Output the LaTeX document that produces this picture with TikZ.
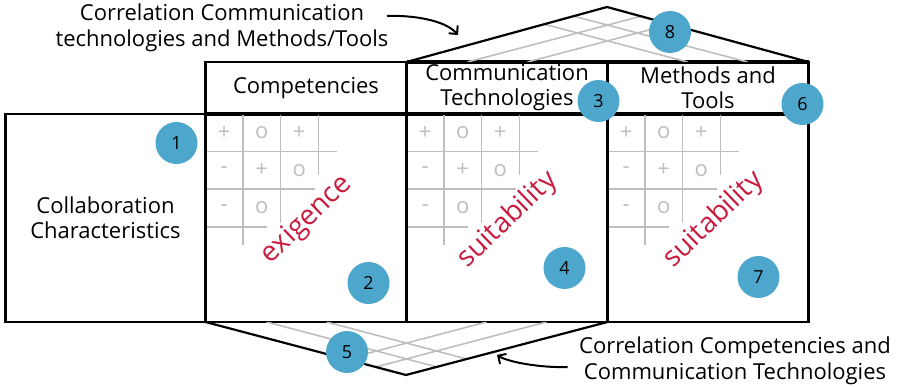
\documentclass[tikz,border=0pt]{standalone}
\usepackage{fontspec}
\setmainfont{Open Sans}
\usetikzlibrary{arrows.meta,positioning,calc}
\definecolor{badgeblue}{RGB}{77,167,204}
\definecolor{ratingred}{RGB}{200,28,62}
\definecolor{gridgray}{RGB}{190,190,190}
\begin{document}
\begin{tikzpicture}[
        x=1pt, y=-1pt,
        header/.style={
            rectangle,
            draw=black,
            line width=2.2pt,
            minimum width=201pt,
            minimum height=52pt,
            inner sep=0pt,
            outer sep=0pt,
            align=center,
            font=\fontsize{22}{25}\selectfont
        },
        matrixcell/.style={
            rectangle,
            draw=black,
            line width=2.2pt,
            minimum width=201pt,
            minimum height=208pt,
            inner sep=0pt,
            outer sep=0pt
        },
        badge/.style={
            circle,
            fill=badgeblue,
            minimum size=42pt,
            inner sep=0pt,
            font=\fontsize{18}{18}\selectfont
        },
        rating/.style={
            text=ratingred,
            rotate=44,
            font=\fontsize{28}{28}\selectfont
        },
        symbol/.style={
            text=gridgray,
            font=\fontsize{22}{22}\selectfont
        },
        gridline/.style={
            gridgray,
            line width=1.6pt
        },
        note/.style={
            align=center,
            font=\fontsize{22}{26}\selectfont
        },
        pointer/.style={
            -{Straight Barb[length=6pt,width=12pt,line width=2pt]},
            line width=2pt
        }
    ]

        \useasboundingbox (0,0) rectangle (898,387);

        \node[header] (comp) at (306,88) {Competencies};
        \node[header, right=0pt of comp] (comm) {Communication\\Technologies};
        \node[header, right=0pt of comm] (meth) {Methods and\\Tools};

        \node[matrixcell, below=0pt of comp] (exig) {};
        \node[matrixcell, below=0pt of comm] (suitcomm) {};
        \node[matrixcell, below=0pt of meth] (suitmeth) {};
        \node[matrixcell, left=0pt of exig, minimum width=200pt,
            align=center, font=\fontsize{22}{25}\selectfont] (collab)
            {Collaboration\\Characteristics};

        \draw[line width=3.4pt] (comm.north west) -- (meth.north east);
        \draw[line width=3.4pt] (comp.south west) -- (meth.south east);

        \coordinate (topapex) at (607,7);
        \coordinate (botapex) at (406,375);

        \begin{scope}
            \clip (comm.north west) -- (topapex) -- (meth.north east) -- cycle;
            \foreach \dx in {61,121} {
                \draw[gridline] ($(comm.north west)+(\dx,0)$) -- ++(201,-53);
                \draw[gridline] ($(meth.north east)+(-\dx,0)$) -- ++(-201,-53);
            }
        \end{scope}
        \draw[line width=2.2pt, line join=round] (comm.north west) -- (topapex) -- (meth.north east);

        \begin{scope}
            \clip (exig.south west) -- (botapex) -- (suitcomm.south east) -- cycle;
            \foreach \dx in {61,121} {
                \draw[gridline] ($(exig.south west)+(\dx,0)$) -- ++(201,53);
                \draw[gridline] ($(suitcomm.south east)+(-\dx,0)$) -- ++(-201,53);
            }
        \end{scope}
        \draw[line width=2.2pt, line join=round] (exig.south west) -- (botapex) -- (suitcomm.south east);

        \foreach \cellname in {exig,suitcomm,suitmeth} {
            \begin{scope}[shift={(\cellname.north west)}]
                \draw[gridline] (1,37.5) -- (131,37.5) (1,75) -- (109,75) (1,113) -- (61,113)
                    (37.5,1) -- (37.5,131) (75,1) -- (75,109) (113,1) -- (113,61);
                \foreach \row/\col/\symb in {0/0/+,0/1/o,0/2/+,1/0/-,1/1/+,1/2/o,2/0/-,2/1/o}
                    \node[symbol] (\cellname-\row\col) at (18.75+37.5*\col, 18.75+37.5*\row) {\symb};
            \end{scope}
        }

        \node[rating] (exigtext) at ($(exig.center)+(1,2)$) {exigence};
        \node[rating] (suitcommtext) at ($(suitcomm.center)+(1,2)$) {suitability};
        \node[rating] (suitmethtext) at ($(suitmeth.center)+(6,2)$) {suitability};

        \node[badge] (b1) at ($(collab.north east)+(-29,29)$) {1};
        \node[badge] (b2) at ($(exig.south east)+(-38,-39)$) {2};
        \node[badge] (b3) at ($(comm.south east)+(-9,-13)$) {3};
        \node[badge] (b4) at ($(suitcomm.south east)+(-43,-54)$) {4};
        \node[badge] (b5) at ($(botapex)+(-59,-23)$) {5};
        \node[badge] (b6) at ($(meth.south east)+(-6,-10)$) {6};
        \node[badge] (b7) at ($(suitmeth.south east)+(-50,-45)$) {7};
        \node[badge] (b8) at ($(topapex)+(63,25)$) {8};

        \node[note] (topnote) at (222,28) {Correlation Communication\\technologies and Methods/Tools};
        \node[note] (botnote) at (735,361) {Correlation Competencies and\\Communication Technologies};

        \coordinate (toptip) at (458,35);
        \coordinate (bottip) at (497,355);
        \draw[pointer] ([xshift=-5pt,yshift=12pt]topnote.east) .. controls +(25,-1) and +(-13,-15) .. (toptip);
        \draw[pointer] ([xshift=-8pt,yshift=-6pt]botnote.west) .. controls +(-27,1) and +(11,7) .. (bottip);

    \end{tikzpicture}
\end{document}
